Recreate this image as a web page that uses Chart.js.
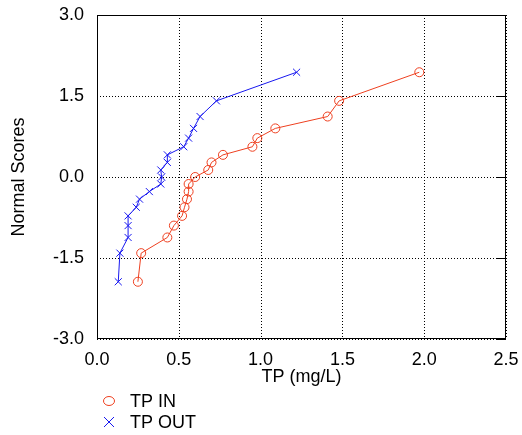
<!DOCTYPE html>
<html>
<head>
<meta charset="utf-8">
<script src="https://cdn.jsdelivr.net/npm/chart.js@4/dist/chart.umd.min.js"></script>
<style>
  html, body { margin: 0; padding: 0; background: #fff; }
  #wrap { width: 522px; height: 435px; }
</style>
</head>
<body>
<div id="wrap"><canvas id="normalPlot"></canvas></div>
<script>
const normalScores = [-1.94, -1.41, -1.12, -0.90, -0.72, -0.56, -0.41, -0.27, -0.13, 0, 0.13, 0.27, 0.41, 0.56, 0.72, 0.90, 1.12, 1.41, 1.94];
const tpIn = [0.25, 0.27, 0.43, 0.47, 0.52, 0.535, 0.55, 0.56, 0.56, 0.60, 0.68, 0.70, 0.77, 0.95, 0.98, 1.09, 1.41, 1.48, 1.97];
const tpOut = [0.13, 0.14, 0.19, 0.19, 0.19, 0.24, 0.26, 0.32, 0.39, 0.395, 0.39, 0.43, 0.43, 0.53, 0.56, 0.59, 0.63, 0.73, 1.22];
const xTicks = [0, 0.5, 1.0, 1.5, 2.0, 2.5];
const yTicks = [-3.0, -1.5, 0.0, 1.5, 3.0];

const RED = "rgb(238, 64, 32)";
const BLUE = "rgb(24, 24, 240)";
const FONT = "'Liberation Sans', Arial, sans-serif";

const toPoints = (xs) => xs.map((x, i) => ({ x, y: normalScores[i] }));

// dotted grid drawn under the data
const gridPlugin = {
  id: "dottedGrid",
  beforeDatasetsDraw(chart) {
    const { ctx, chartArea: a, scales } = chart;
    ctx.save();
    ctx.strokeStyle = "#000";
    ctx.lineWidth = 1;
    ctx.setLineDash([1, 2]);
    xTicks.forEach((v) => {
      const x = Math.round(scales.x.getPixelForValue(v)) + 0.5;
      ctx.beginPath();
      ctx.moveTo(x, a.top);
      ctx.lineTo(x, a.bottom);
      ctx.stroke();
    });
    yTicks.forEach((v) => {
      const y = Math.round(scales.y.getPixelForValue(v)) + 0.5;
      ctx.beginPath();
      ctx.moveTo(a.left, y);
      ctx.lineTo(a.right, y);
      ctx.stroke();
    });
    ctx.restore();
  },
};

// frame, inward ticks on the right, and the stacked legend under the axis
const framePlugin = {
  id: "frame",
  afterDraw(chart) {
    const { ctx, chartArea: a, scales } = chart;
    ctx.save();
    ctx.strokeStyle = "#000";
    ctx.lineWidth = 1;
    ctx.strokeRect(a.left + 0.5, a.top + 0.5, a.right - a.left - 1, a.bottom - a.top - 1);
    yTicks.forEach((v) => {
      const y = Math.round(scales.y.getPixelForValue(v)) + 0.5;
      ctx.beginPath();
      ctx.moveTo(a.right - 10, y);
      ctx.lineTo(a.right, y);
      ctx.stroke();
    });

    const items = [
      { label: "TP IN", color: RED, shape: "circle", y: 401 },
      { label: "TP OUT", color: BLUE, shape: "cross", y: 422 },
    ];
    ctx.font = "18px " + FONT;
    ctx.textBaseline = "middle";
    items.forEach((it) => {
      ctx.strokeStyle = it.color;
      ctx.beginPath();
      if (it.shape === "circle") {
        ctx.ellipse(109, it.y, 5.5, 4.5, 0, 0, Math.PI * 2);
      } else {
        ctx.moveTo(104, it.y - 5); ctx.lineTo(114, it.y + 5);
        ctx.moveTo(114, it.y - 5); ctx.lineTo(104, it.y + 5);
      }
      ctx.stroke();
      ctx.fillStyle = "#000";
      ctx.fillText(it.label, 130, it.y + 1);
    });
    ctx.restore();
  },
};

new Chart(document.getElementById("normalPlot"), {
  type: "scatter",
  data: {
    datasets: [
      {
        label: "TP IN",
        data: toPoints(tpIn),
        showLine: true,
        borderColor: RED,
        backgroundColor: "rgba(0,0,0,0)",
        borderWidth: 1,
        pointStyle: "circle",
        pointRadius: 4.5,
        pointBorderColor: RED,
        pointBorderWidth: 1,
      },
      {
        label: "TP OUT",
        data: toPoints(tpOut),
        showLine: true,
        borderColor: BLUE,
        backgroundColor: "rgba(0,0,0,0)",
        borderWidth: 1,
        pointStyle: "crossRot",
        pointRadius: 5,
        pointBorderColor: BLUE,
        pointBorderWidth: 1,
      },
    ],
  },
  options: {
    responsive: true,
    maintainAspectRatio: false,
    animation: false,
    layout: { padding: { left: 0, right: 16, top: 15, bottom: 45 } },
    plugins: {
      legend: { display: false },
      tooltip: { enabled: false },
    },
    scales: {
      x: {
        type: "linear",
        min: 0,
        max: 2.5,
        afterBuildTicks: (scale) => { scale.ticks = xTicks.map((v) => ({ value: v })); },
        afterFit: (scale) => {
          scale.height = 51;
          scale.paddingLeft = 0;
          scale.paddingRight = 0;
        },
        border: { display: false },
        grid: { display: false, drawTicks: false },
        ticks: {
          padding: 10,
          color: "#000",
          font: { family: FONT, size: 18 },
          callback: (v) => Number(v).toFixed(1),
        },
        title: {
          display: true,
          text: "TP (mg/L)",
          color: "#000",
          font: { family: FONT, size: 18 },
          padding: { top: 0, bottom: 2 },
        },
      },
      y: {
        type: "linear",
        min: -3,
        max: 3,
        afterBuildTicks: (scale) => { scale.ticks = yTicks.map((v) => ({ value: v })); },
        afterFit: (scale) => {
          scale.width = 97;
          scale.paddingTop = 0;
          scale.paddingBottom = 0;
        },
        border: { display: false },
        grid: { display: false, drawTicks: false },
        ticks: {
          padding: 13,
          color: "#000",
          font: { family: FONT, size: 18 },
          callback: (v) => Number(v).toFixed(1),
        },
        title: {
          display: true,
          text: "Normal Scores",
          color: "#000",
          font: { family: FONT, size: 18 },
          padding: { top: 8, bottom: 0 },
        },
      },
    },
  },
  plugins: [gridPlugin, framePlugin],
});
</script>
</body>
</html>
